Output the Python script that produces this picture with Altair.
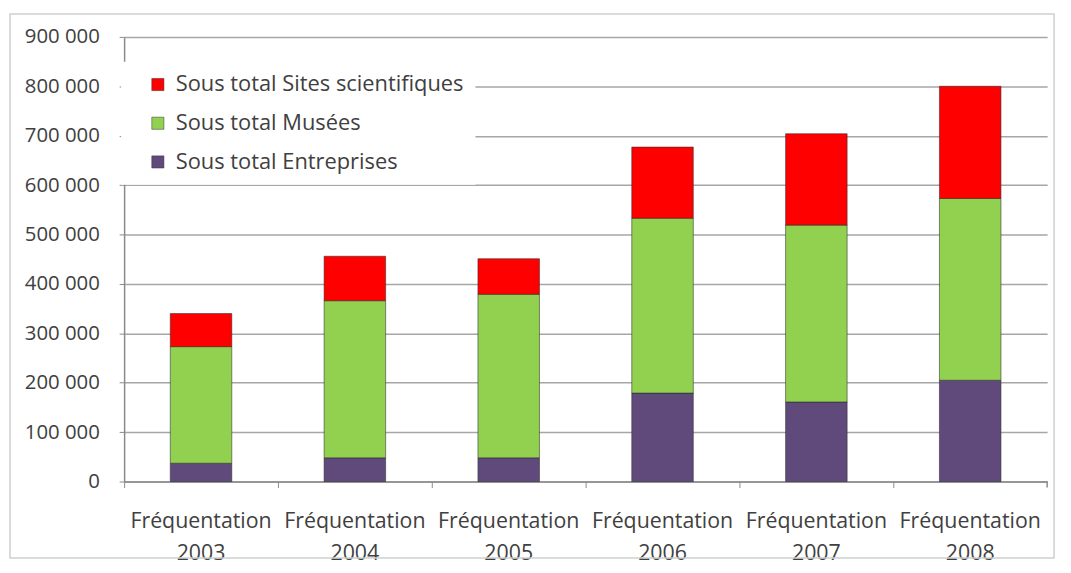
import altair as alt
import pandas as pd

years = ["Fréquentation 2003", "Fréquentation 2004", "Fréquentation 2005",
         "Fréquentation 2006", "Fréquentation 2007", "Fréquentation 2008"]
entreprises = [37000, 48000, 48000, 179000, 161000, 205000]
musees = [236000, 318000, 331000, 354000, 358000, 368000]
sites = [67000, 90000, 72000, 144000, 185000, 227000]

series_names = ["Sous total Sites scientifiques", "Sous total Musées", "Sous total Entreprises"]
series_colors = ["#ff0000", "#92d050", "#5f4a7b"]
stack_rank = {"Sous total Entreprises": 0, "Sous total Musées": 1, "Sous total Sites scientifiques": 2}

rows = []
for name, vals in [("Sous total Entreprises", entreprises),
                   ("Sous total Musées", musees),
                   ("Sous total Sites scientifiques", sites)]:
    for y, v in zip(years, vals):
        rows.append({"annee": y, "serie": name, "valeur": v, "rang": stack_rank[name]})
df = pd.DataFrame(rows)

FONT = "Open Sans"

frame = alt.Chart(pd.DataFrame({"a": [0]})).mark_rect(
    fill="transparent", stroke="#cfcfcf", strokeWidth=1.5
).encode(x=alt.value(-115), x2=alt.value(937), y=alt.value(-23), y2=alt.value(525))

bars = alt.Chart(df).mark_bar(
    stroke="#2b2b2b", strokeWidth=1, strokeOpacity=0.55
).encode(
    x=alt.X("annee:N", sort=years, title=None,
            scale=alt.Scale(paddingInner=0.6, paddingOuter=0.3),
            axis=alt.Axis(labelAngle=0, bandPosition=-0.75,
                          labelExpr="split(datum.label, ' ')",
                          labelFont=FONT, labelFontSize=21.5, labelColor="#404040",
                          labelLineHeight=33, labelPadding=23, labelBaseline="top",
                          labelOverlap=False,
                          tickSize=6, tickColor="#8a8a8a", domainColor="#8a8a8a",
                          domainWidth=1.5, grid=False)),
    y=alt.Y("valeur:Q", stack="zero", title=None,
            scale=alt.Scale(domain=[0, 900000], nice=False),
            axis=alt.Axis(values=[i * 100000 for i in range(10)],
                          labelExpr="replace(format(datum.value, ','), regexp(',', 'g'), ' ')",
                          labelFont=FONT, labelFontSize=20.5, labelColor="#404040",
                          labelPadding=20, tickSize=5, tickColor="#8a8a8a",
                          domainColor="#8a8a8a", domainWidth=1.5,
                          gridColor="#a6a6a6", gridWidth=1.5)),
    color=alt.Color("serie:N", scale=alt.Scale(domain=series_names, range=series_colors),
                    legend=alt.Legend(title=None, orient="none", legendX=-3, legendY=25,
                                      fillColor="white", padding=12, symbolOffset=14,
                                      symbolType="square", symbolSize=150,
                                      symbolStrokeColor="#333333", symbolStrokeWidth=0.5,
                                      labelFont=FONT, labelFontSize=22, labelColor="#404040",
                                      labelOffset=7, rowPadding=17, labelLimit=500)),
    order=alt.Order("rang:Q", sort="ascending"),
)

last_tick = alt.Chart(pd.DataFrame({"a": [0]})).mark_rule(
    color="#8a8a8a", strokeWidth=1.5
).encode(x=alt.value(930), y=alt.value(448), y2=alt.value(454))

chart = alt.layer(frame, bars, last_tick).properties(
    width=930, height=448,
    autosize=alt.AutoSizeParams(type="none"),
    padding={"left": 117, "top": 27, "right": 16, "bottom": 82},
).configure_view(strokeWidth=0)

chart.save("out.html", embed_options={"renderer": "svg", "actions": False})
